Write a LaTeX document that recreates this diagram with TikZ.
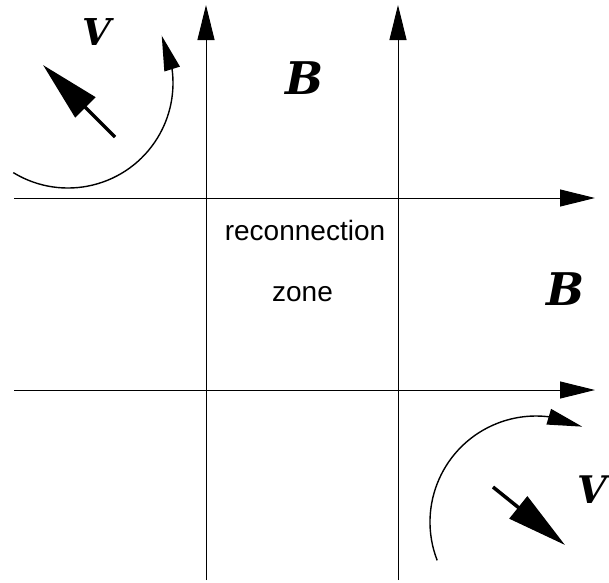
\documentclass[tikz,border=0pt]{standalone}
\usepackage{fontspec}
\setmainfont{Liberation Sans}
\newfontfamily\symfont{DejaVu Serif}
\usetikzlibrary{arrows.meta,bending}
\begin{document}
\begin{tikzpicture}[x=1pt,y=-1pt,
  fieldline/.style={line width=1pt,-{Triangle[length=35pt,width=17pt]}},
  flowarc/.style={line width=1.4pt,-{Triangle[length=35pt,width=16pt]}},
  velarrow/.style={line width=3.5pt,-{Triangle[length=60pt,width=28pt]}},
  sym/.style={inner sep=0pt,font=\symfont\bfseries\itshape\fontsize{#1}{#1}\selectfont},
  txt/.style={inner sep=0pt,anchor=base,font=\fontsize{28}{28}\selectfont}]
\useasboundingbox (0,0) rectangle (609,582);
% field lines
\coordinate (v1s) at (206,580); \coordinate (v1e) at (206,5);
\coordinate (v2s) at (398,580); \coordinate (v2e) at (398,5);
\coordinate (h1s) at (14,198);  \coordinate (h1e) at (595,198);
\coordinate (h2s) at (14,390);  \coordinate (h2e) at (595,390);
\draw[fieldline] (v1s) -- (v1e);
\draw[fieldline] (v2s) -- (v2e);
\draw[fieldline] (h1s) -- (h1e);
\draw[fieldline] (h2s) -- (h2e);
% flow arcs
\coordinate (c1) at (68,83);
\draw[flowarc] (c1) ++(121.4:105) arc[start angle=121.4,end angle=-26.8,radius=105];
\coordinate (c2) at (536,522);
\draw[flowarc] (c2) ++(158.8:106) arc[start angle=158.8,end angle=295.9,radius=106];
% velocity arrows
\coordinate (a1s) at (115,137); \coordinate (a1e) at (43,65);
\coordinate (a2s) at (493,487); \coordinate (a2e) at (565,545);
\draw[velarrow] (a1s) -- (a1e);
\draw[velarrow] (a2s) -- (a2e);
% labels
\node[sym=37,anchor=base] (V1) at (97,45) {V};
\node[sym=38,anchor=base] (V2) at (592,503) {V};
\node[sym=45,anchor=base] (B1) at (305,94) {B};
\node[sym=45,anchor=base] (B2) at (566,305) {B};
\node[txt] (t1) at (305,240) {reconnection};
\node[txt] (t2) at (302.5,301) {zone};
\end{tikzpicture}
\end{document}
